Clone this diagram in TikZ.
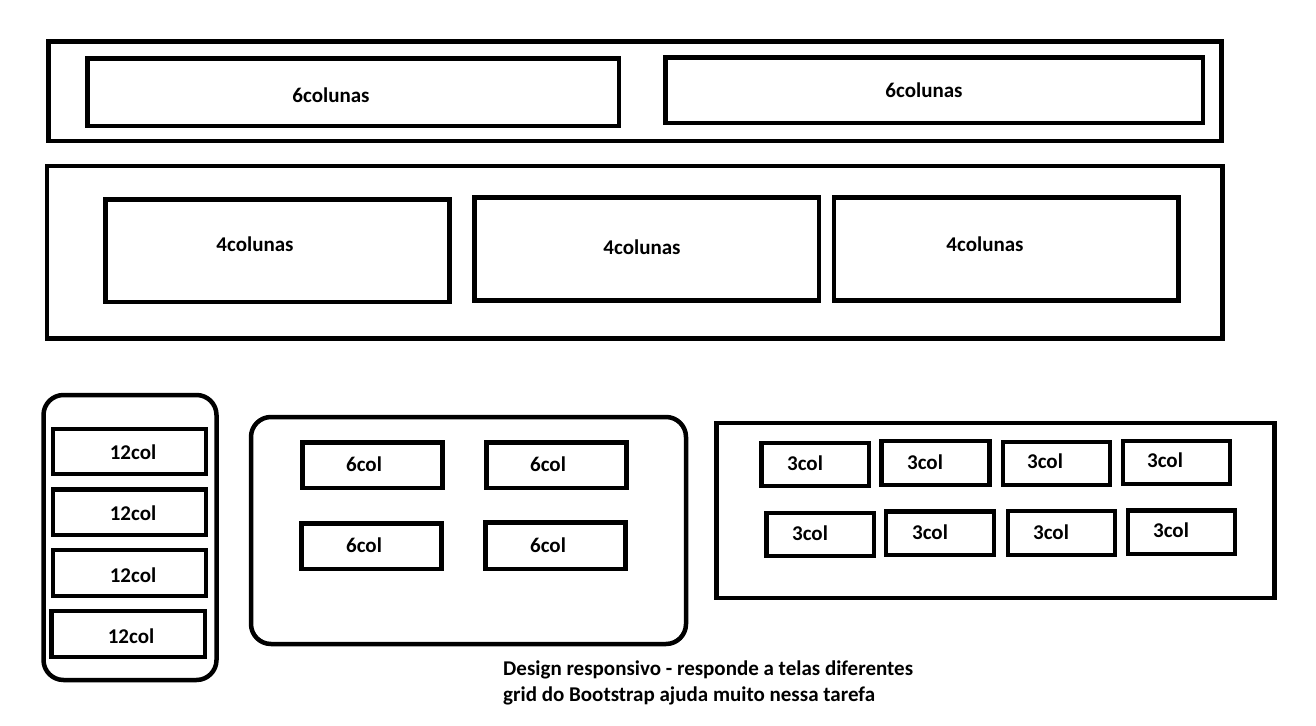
\documentclass[tikz,border=0pt]{standalone}
\usepackage{fontspec}
\setmainfont{Carlito}
\tikzset{
  x=1pt,y=-1pt,
  box/.style={draw=black,line width=4.5pt,line join=miter},
  rbox/.style={draw=black,line width=4.5pt,rounded corners=20pt},
  lbl/.style={font=\bfseries\fontsize{21}{25}\selectfont,inner sep=0pt,anchor=center},
  note/.style={font=\bfseries\fontsize{21}{25}\selectfont,inner sep=0pt,anchor=base west}
}
\newcommand{\bx}[7]{\draw[box] (#1,#2) rectangle (#3,#4); \node[lbl] at (#5,#6) {#7};}
\begin{document}
\begin{tikzpicture}
\useasboundingbox[fill=white] (0,0) rectangle (1316,725);
% row of 6 columns
\draw[box] (48.5,41.5) rectangle (1221.5,141);
\bx{87.5}{58.5}{619}{126}{331}{95.5}{6colunas}
\bx{665.5}{57.5}{1203}{123}{924}{90.5}{6colunas}
% row of 4 columns
\draw[box] (47,166) rectangle (1222.5,338.5);
\bx{105.5}{199.5}{449.5}{302}{255}{244.5}{4colunas}
\bx{474.5}{197.5}{819}{300.5}{642}{247.5}{4colunas}
\bx{834}{197.5}{1178.5}{300.5}{985}{244.5}{4colunas}
% phone
\draw[rbox] (43.5,395) rectangle (216.5,680);
\bx{53}{429}{206}{474}{133}{452.5}{12col}
\bx{53}{489.5}{206}{535}{133}{513.5}{12col}
\bx{53}{550}{206}{596}{133}{575.5}{12col}
\bx{51.5}{611}{205}{657}{131}{636.5}{12col}
% tablet
\draw[rbox] (251,417) rectangle (686,644);
\bx{302.5}{442.5}{442.5}{488}{364}{464.5}{6col}
\bx{486.5}{442.5}{626.5}{488}{548}{464.5}{6col}
\bx{301.5}{523.5}{441.5}{569}{364}{545.5}{6col}
\bx{485.5}{522.5}{625.5}{569}{548}{545.5}{6col}
% desktop
\draw[box] (716.5,423) rectangle (1274.5,598);
\bx{761.5}{443}{869}{486}{805}{463.5}{3col}
\bx{881.5}{441}{989.5}{485}{925}{462.5}{3col}
\bx{1003}{442}{1110}{485}{1045}{461.5}{3col}
\bx{1123}{441}{1230}{484}{1165}{460.5}{3col}
\bx{766.5}{513}{874}{556}{810}{533.5}{3col}
\bx{886}{511.5}{994}{555}{930}{532.5}{3col}
\bx{1008}{511}{1115}{555}{1051}{532.5}{3col}
\bx{1128}{510.5}{1235}{554}{1171}{530.5}{3col}
% note
\node[note] (n1) at (503,675) {Design responsivo - responde a telas diferentes};
\node[note] (n2) at (503,701) {grid do Bootstrap ajuda muito nessa tarefa};
\end{tikzpicture}
\end{document}
